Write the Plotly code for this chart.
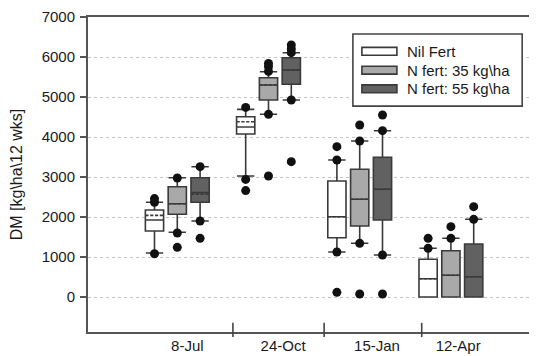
import plotly.graph_objects as go

# ---------------- data ----------------
categories = ["8-Jul", "24-Oct", "15-Jan", "12-Apr"]
series_names = ["Nil Fert", "N fert: 35 kg\\ha", "N fert: 55 kg\\ha"]

nil_q1 = [1650, 4075, 1483, 0]
nil_median = [1925, 4250, 2008, 458]
nil_q3 = [2175, 4508, 2900, 942]
nil_lower = [1100, 3025, 1125, 0]
nil_upper = [2370, 4690, 3425, 1217]
nil_mean = [2040, 4380, 2008, 458]
nil_outliers = [[2460, 2370, 1080], [4740, 2940, 2660], [3758, 3425, 1125, 117], [1467, 1217]]

n35_q1 = [2067, 4925, 1775, 0]
n35_median = [2333, 5300, 2442, 542]
n35_q3 = [2758, 5483, 3192, 1158]
n35_lower = [1617, 4567, 1342, 0]
n35_upper = [2983, 5633, 3900, 1467]
n35_mean = [2333, 5300, 2442, 542]
n35_outliers = [[2975, 1600, 1242], [5840, 5760, 5640, 4567, 3025], [4300, 3900, 1342, 75], [1758, 1467]]

n55_q1 = [2367, 5317, 1925, 0]
n55_median = [2610, 5675, 2692, 508]
n55_q3 = [2983, 5983, 3492, 1325]
n55_lower = [1900, 4925, 1050, 0]
n55_upper = [3258, 6108, 4158, 1942]
n55_mean = [2570, 5675, 2692, 508]
n55_outliers = [[3258, 1900, 1467], [6300, 6200, 6108, 4925, 3383], [4550, 4158, 1050, 75], [2258, 1942]]

y_ticks = [0, 1000, 2000, 3000, 4000, 5000, 6000, 7000]

# ---------------- styling / layout constants ----------------
fills = ["#ffffff", "#a9a9a9", "#616161"]
offsets = [-0.25, 0.0, 0.25]
label_pos = [1.11, 2.16, 3.19, 4.08]
boundary_ticks = [1.61, 2.61, 3.68]
edge = "#3a3a3a"
FONT = "Liberation Sans, Arial, sans-serif"

stats = [
    (nil_q1, nil_median, nil_q3, nil_lower, nil_upper, nil_mean, nil_outliers),
    (n35_q1, n35_median, n35_q3, n35_lower, n35_upper, n35_mean, n35_outliers),
    (n55_q1, n55_median, n55_q3, n55_lower, n55_upper, n55_mean, n55_outliers),
]

fig = go.Figure()
for s, (q1, med, q3, lo, hi, mn, outs) in enumerate(stats):
    xs = [i + 1 + offsets[s] for i in range(len(categories))]
    fig.add_trace(go.Box(
        x=xs, q1=q1, median=med, q3=q3, lowerfence=lo, upperfence=hi, mean=mn,
        boxmean=True, boxpoints=False, width=0.2, whiskerwidth=0.95,
        fillcolor=fills[s], line=dict(color=edge, width=1.6),
        name=series_names[s], showlegend=False, hoverinfo="skip",
    ))
    ox, oy = [], []
    for i, vals in enumerate(outs):
        for v in vals:
            ox.append(i + 1 + offsets[s])
            oy.append(v)
    fig.add_trace(go.Scatter(
        x=ox, y=oy, mode="markers",
        marker=dict(color="#111111", size=9, line=dict(width=0)),
        showlegend=False, hoverinfo="skip",
    ))

shapes = []
# category boundary ticks crossing the x axis
for b in boundary_ticks:
    shapes.append(dict(type="line", xref="x", yref="paper", x0=b, x1=b, y0=-0.016, y1=0.029,
                       line=dict(color="#444444", width=1.6)))

# manual legend (long rectangular swatches like the original)
leg_x0, leg_x1, leg_y0, leg_y1 = 0.590, 0.967, 0.717, 0.946
shapes.append(dict(type="rect", xref="paper", yref="paper", x0=leg_x0, x1=leg_x1, y0=leg_y0, y1=leg_y1,
                   line=dict(color="#444444", width=1.6), fillcolor="white", layer="above"))
row_y = [0.891, 0.831, 0.772]
annotations = []
for s, name in enumerate(series_names):
    shapes.append(dict(type="rect", xref="paper", yref="paper", x0=0.610, x1=0.688,
                       y0=row_y[s] - 0.0125, y1=row_y[s] + 0.0125,
                       line=dict(color=edge, width=1.6), fillcolor=fills[s], layer="above"))
    annotations.append(dict(xref="paper", yref="paper", x=0.705, y=row_y[s], text=name,
                            showarrow=False, xanchor="left", yanchor="middle",
                            font=dict(size=15, color="#1a1a1a", family=FONT)))

fig.update_layout(
    width=537, height=356,
    margin=dict(l=80, r=8, t=9, b=32, autoexpand=False),
    paper_bgcolor="white", plot_bgcolor="white",
    font=dict(family=FONT, size=15, color="#1a1a1a"),
    shapes=shapes, annotations=annotations,
    boxmode="overlay",
)
fig.update_xaxes(
    range=[0.021, 4.944], tickmode="array", tickvals=label_pos, ticktext=categories,
    ticks="", showgrid=False, zeroline=False, automargin=False,
    showline=True, linecolor="#555555", linewidth=2, mirror=True,
    tickfont=dict(size=15, color="#1a1a1a"), ticklabelstandoff=-1,
)
fig.update_yaxes(
    range=[-875, 7000], tickmode="array", tickvals=y_ticks, automargin=False,
    ticks="outside", ticklen=6, tickwidth=1.5, tickcolor="#555555",
    showgrid=True, gridcolor="#c4c4c4", griddash="dot", gridwidth=1,
    zeroline=False, showline=True, linecolor="#555555", linewidth=2,
    title=dict(text="DM [kg\\ha\\12 wks]", font=dict(size=16, color="#1a1a1a"), standoff=22),
    tickfont=dict(size=15, color="#1a1a1a"), ticklabelstandoff=2,
)

fig.write_html("out.html")
